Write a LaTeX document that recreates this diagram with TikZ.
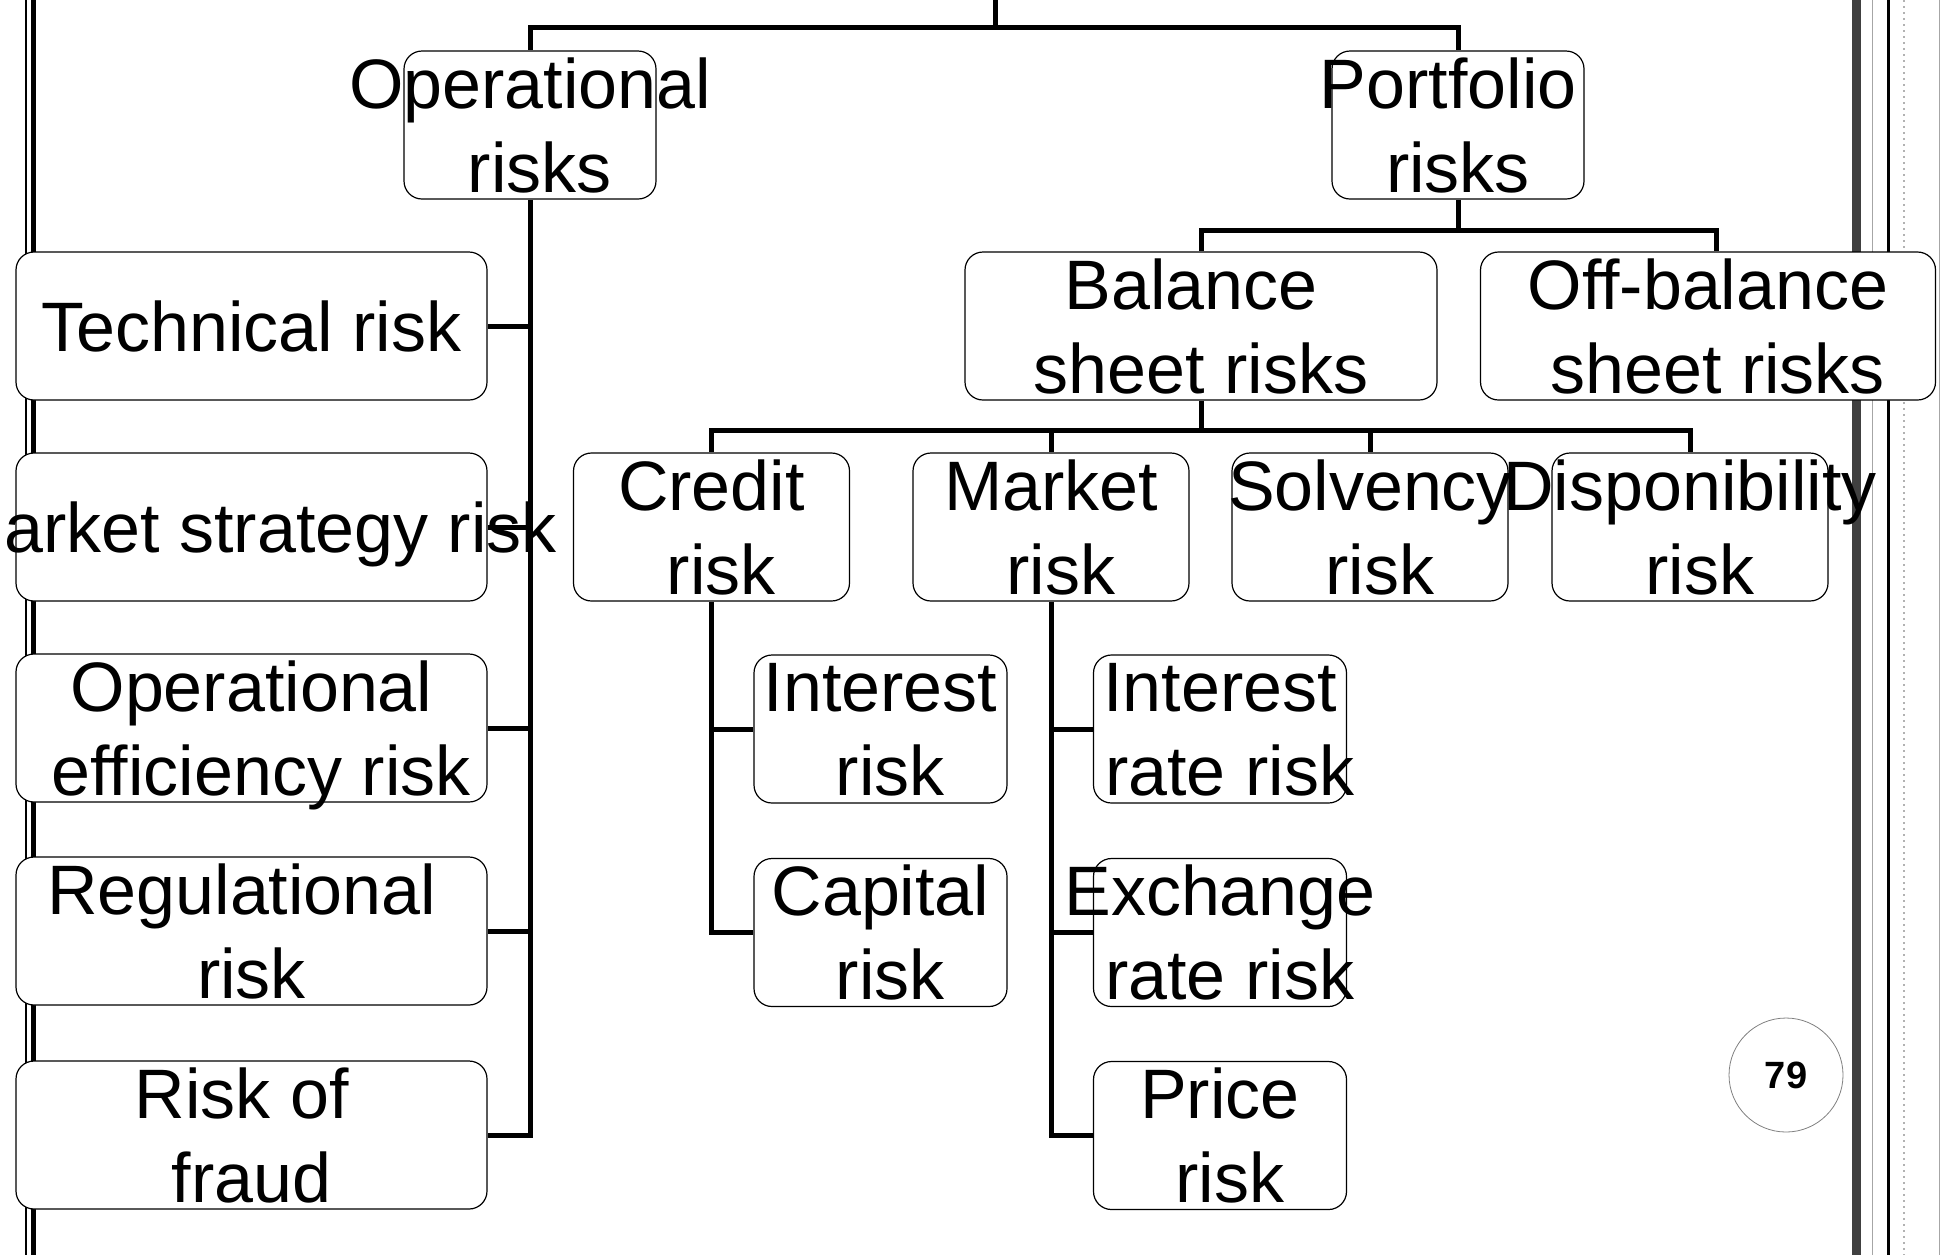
\documentclass[tikz,border=0pt]{standalone}
\usepackage{fontspec}
\setmainfont{Liberation Sans}
\newcommand{\cbox}[1]{\makebox[0pt]{#1}}

\begin{document}
\begin{tikzpicture}[x=0.5pt, y=-0.5pt,
  rbox/.style={draw, fill=white, line width=0.6pt, rounded corners=9pt,
    inner sep=0pt, align=center, text depth=0pt, minimum height=74pt,
    font=\fontsize{35}{42}\selectfont},
  head/.style={rbox, minimum width=126pt},
  side/.style={rbox, minimum width=235.5pt},
  sheet/.style={rbox, minimum width=236pt},
  kind/.style={rbox, minimum width=138pt},
  leaf/.style={rbox, minimum width=126.5pt},
  conn/.style={line width=2.5pt}]
  \useasboundingbox (0,0) rectangle (1942,1255);
  \clip (0,0) rectangle (1942,1255);

  % page frame
  \draw[line width=0.6pt] (26,0) -- (26,1255);
  \draw[line width=2.4pt] (33.5,0) -- (33.5,1255);
  \draw[black!75, line width=4.5pt] (1856.5,0) -- (1856.5,1255);
  \draw[gray!70, line width=0.5pt] (1872,0) -- (1872,1255);
  \draw[line width=1.5pt] (1888.5,0) -- (1888.5,1255);
  \draw[gray!60, line width=1pt, dotted] (1904,0) -- (1904,1255);
  \draw[gray!70, line width=0.5pt] (1939,0) -- (1939,1255);

  % level 1
  \node[head] (opr) at (530,125) {\cbox{Operational}\\\cbox{\ risks}};
  \node[head] (port) at (1458,125) {\cbox{Portfolio\ }\\\cbox{risks}};

  % operational risks
  \node[side] (tech) at (251.5,326) {\cbox{Technical risk}};
  \node[side] (mstrat) at (251.5,527) {\cbox{Market strategy risk}};
  \node[side] (opeff) at (251.5,728) {\cbox{Operational}\\\cbox{\ efficiency risk}};
  \node[side] (regul) at (251.5,931) {\cbox{Regulational\ }\\\cbox{risk}};
  \node[side] (fraud) at (251.5,1135) {\cbox{Risk of\ }\\\cbox{fraud}};

  % portfolio risks
  \node[sheet] (bal) at (1201,326) {\cbox{Balance\ }\\\cbox{sheet risks}};
  \node[sheet, minimum width=227.5pt] (offbal) at (1708,326) {\cbox{Off-balance}\\\cbox{\ sheet risks}};

  \node[kind] (credit) at (711.5,527) {\cbox{Credit}\\\cbox{\ risk}};
  \node[kind] (market) at (1051,527) {\cbox{Market}\\\cbox{\ risk}};
  \node[kind] (solv) at (1370,527) {\cbox{Solvency}\\\cbox{\ risk}};
  \node[kind] (dispo) at (1690,527) {\cbox{Disponibility}\\\cbox{\ risk}};

  \node[leaf] (intr) at (880.5,729) {\cbox{Interest}\\\cbox{\ risk}};
  \node[leaf] (capit) at (880.5,932.5) {\cbox{Capital}\\\cbox{\ risk}};

  \node[leaf] (irate) at (1220,729) {\cbox{Interest}\\\cbox{\ rate risk}};
  \node[leaf] (exch) at (1220,932.5) {\cbox{Exchange}\\\cbox{\ rate risk}};
  \node[leaf] (price) at (1220,1135.5) {\cbox{Price}\\\cbox{\ risk}};

  % connectors
  \coordinate (root) at (995,0);
  \draw[conn] (root) -- ++(0,27) coordinate (rj) -| (opr.north);
  \draw[conn] (rj) -| (port.north);

  \draw[conn] (opr.south) |- (fraud.east);
  \foreach \n in {tech,mstrat,opeff,regul}
    \draw[conn] (opr.south |- \n.east) -- (\n.east);

  \draw[conn] (port.south) -- ++(0,31) coordinate (pj) -| (bal.north);
  \draw[conn] (pj) -| ([xshift=4pt]offbal.north);

  \draw[conn] (bal.south) -- ++(0,30) coordinate (bj) -| (credit.north);
  \draw[conn] (bj) -| (dispo.north);
  \foreach \n in {market,solv}
    \draw[conn] (bj -| \n.north) -- (\n.north);

  \draw[conn] (credit.south) |- (capit.west);
  \draw[conn] (credit.south |- intr.west) -- (intr.west);

  \draw[conn] (market.south) |- (price.west);
  \foreach \n in {irate,exch}
    \draw[conn] (market.south |- \n.west) -- (\n.west);

  % page number
  \node[circle, draw=gray, line width=0.4pt, minimum size=57pt, inner sep=0pt,
    font=\fontsize{19}{22}\selectfont\bfseries] (page) at (1786,1075) {79};
\end{tikzpicture}
\end{document}
